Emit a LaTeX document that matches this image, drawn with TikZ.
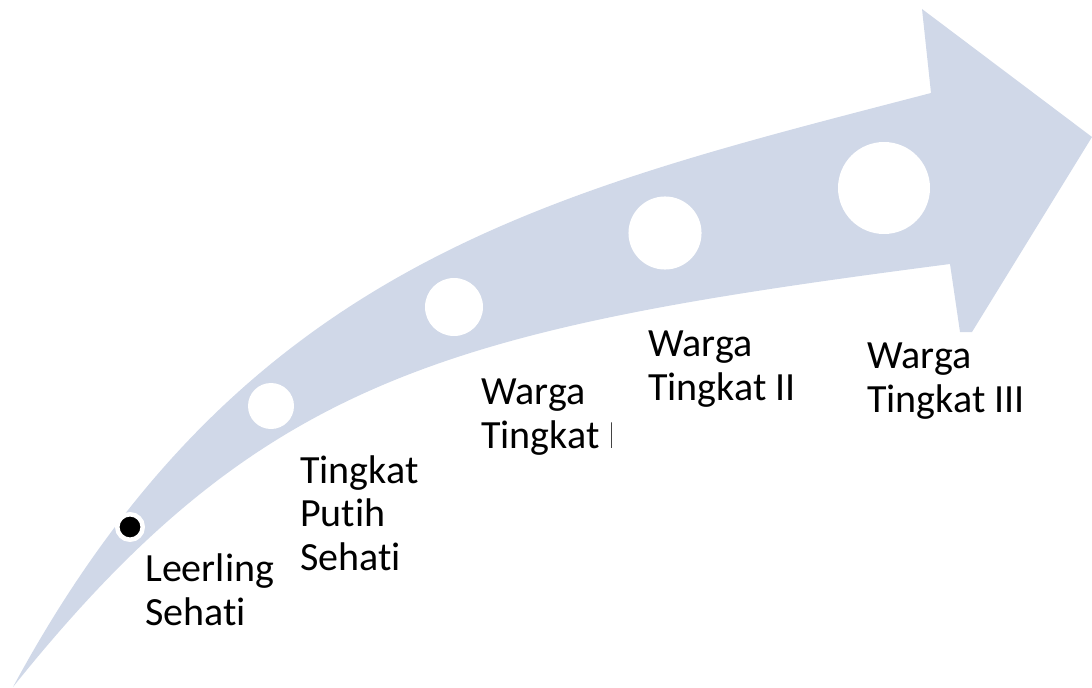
\documentclass[tikz,border=0pt]{standalone}
\usepackage{fontspec}
\setmainfont{Carlito}[Ligatures=NoCommon]
\usepackage{tikz}
\definecolor{bandblue}{RGB}{208,216,232}

\tikzset{
  stage/.style={circle, fill=white, inner sep=0pt},
  lbl/.style={font=\fontsize{30}{32.4}\selectfont, align=left, anchor=base west, inner sep=0pt}
}

\begin{document}
\begin{tikzpicture}[x=0.75pt, y=-0.75pt]
  \useasboundingbox (0,0) rectangle (1092,688);

  % Curved arrow
  \fill[bandblue] (13,687) .. controls (243,261) and (551,192) .. (931,93)
    -- (922,9) -- (1092,137) -- (972,332) -- (960,332) -- (950,264)
    .. controls (450,329) and (263,375) .. (13,687) -- cycle;

  % Stages
  \node[stage, fill=black, draw=white, line width=3.4pt, minimum size=19.1pt] (s1) at (130,527) {};
  \node[stage, minimum size=34.5pt] (s2) at (271,406) {};
  \node[stage, minimum size=43.5pt] (s3) at (454,307) {};
  \node[stage, minimum size=54.8pt] (s4) at (665,233) {};
  \node[stage, minimum size=69pt] (s5) at (884,188) {};

  % Labels (anchored at the last baseline)
  \node[lbl] (l1) at (145,625) {Leerling\\Sehati};
  \node[lbl] (l2) at (300,570) {Tingkat\\Putih\\Sehati};
  \begin{scope}
    \clip (0,0) rectangle (611,688);
    \node[lbl] (l3) at (481,448) {Warga\\Tingkat I};
  \end{scope}
  \node[lbl] (l4) at (648,400) {Warga\\Tingkat II};
  \node[lbl] (l5) at (867,412) {Warga\\Tingkat III};
\end{tikzpicture}
\end{document}
